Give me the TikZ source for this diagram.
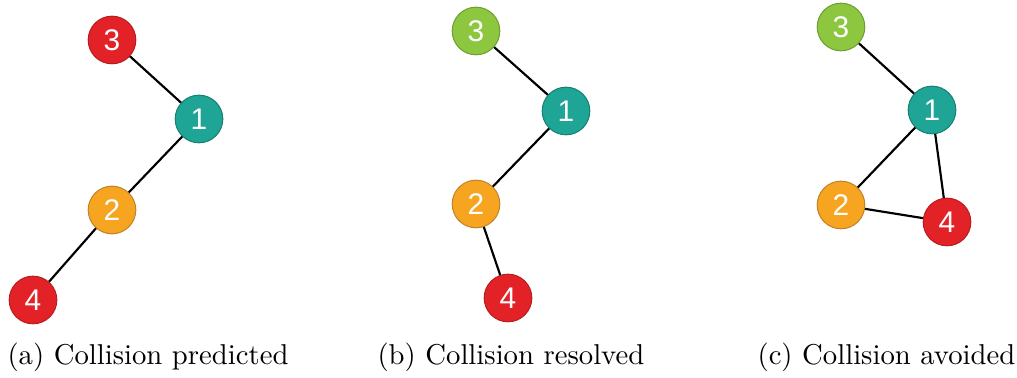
\documentclass[tikz,border=0pt]{standalone}
\usepackage{fontspec}
\newfontfamily\numfont{Liberation Sans}
\definecolor{cred}{HTML}{E32227}
\definecolor{credb}{HTML}{B71C20}
\definecolor{cteal}{HTML}{1FA595}
\definecolor{ctealb}{HTML}{14806F}
\definecolor{corange}{HTML}{F7A520}
\definecolor{corangeb}{HTML}{C08228}
\definecolor{cgreen}{HTML}{8DC63F}
\definecolor{cgreenb}{HTML}{6E9E30}
\tikzset{
  agent/.style={circle, minimum size=16.6pt, inner sep=0pt, line width=0.35pt,
    text=white, font=\numfont\fontsize{10.4}{11}\selectfont},
  ared/.style={agent, fill=cred, draw=credb},
  ateal/.style={agent, fill=cteal, draw=ctealb},
  aorange/.style={agent, fill=corange, draw=corangeb},
  agreen/.style={agent, fill=cgreen, draw=cgreenb},
  link/.style={line width=0.75pt, black},
  captext/.style={anchor=base west, inner sep=0pt, font=\fontsize{10}{12}\selectfont}
}
\begin{document}
\begin{tikzpicture}[x=0.3484pt, y=-0.3484pt]
\useasboundingbox (0,0) rectangle (1017,378);
% panel a
\node[ared] (a3) at (112,40) {3};
\node[ateal] (a1) at (199,119) {1};
\node[aorange] (a2) at (112,210) {2};
\node[ared] (a4) at (33,300) {4};
\draw[link] (a3) -- (a1);
\draw[link] (a1) -- (a2);
\draw[link] (a2) -- (a4);
% panel b
\node[agreen] (b3) at (476,31) {3};
\node[ateal] (b1) at (566,111) {1};
\node[aorange] (b2) at (476,204) {2};
\node[ared] (b4) at (508,298) {4};
\draw[link] (b3) -- (b1);
\draw[link] (b1) -- (b2);
\draw[link] (b2) -- (b4);
% panel c
\node[agreen] (c3) at (841,27) {3};
\node[ateal] (c1) at (932,110) {1};
\node[aorange] (c2) at (841,205) {2};
\node[ared] (c4) at (947,222) {4};
\draw[link] (c3) -- (c1);
\draw[link] (c1) -- (c2);
\draw[link] (c1) -- (c4);
\draw[link] (c2) -- (c4);
% captions
\node[captext] (capa) at (7,365) {(a) Collision predicted};
\node[captext] (capb) at (377,365) {(b) Collision resolved};
\node[captext] (capc) at (757,365) {(c) Collision avoided};
\end{tikzpicture}
\end{document}
